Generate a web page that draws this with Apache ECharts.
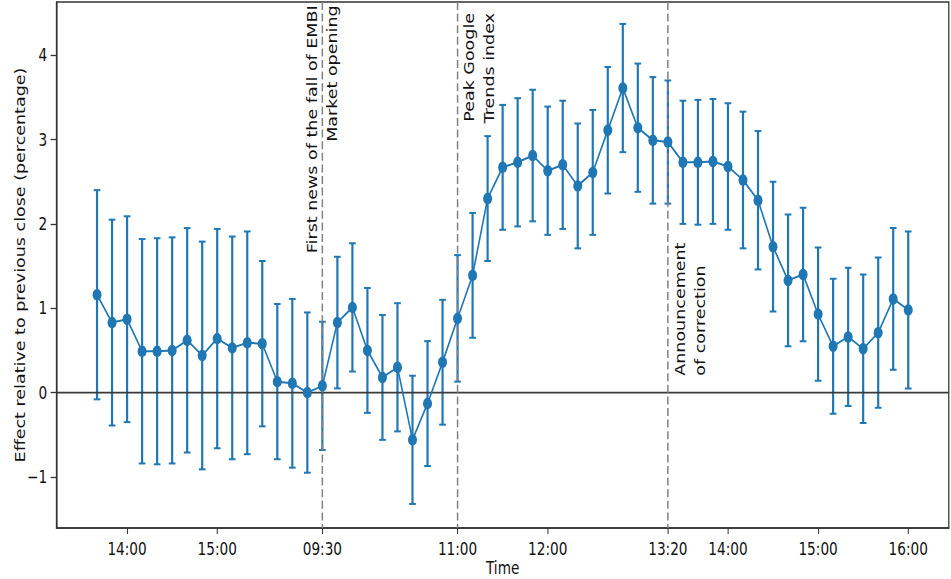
<!DOCTYPE html>
<html>
<head>
<meta charset="utf-8">
<script src="https://cdn.jsdelivr.net/npm/echarts@6/dist/echarts.min.js"></script>
<style>
html,body{margin:0;padding:0;background:#fff;overflow:hidden;width:951px;height:579px;}
#chart{width:1219px;height:579px;transform:scaleX(0.78);transform-origin:0 0;}
</style>
</head>
<body>
<div id="chart"></div>
<script>
// ---- data ----
const categories = ['13:40','13:50','14:00','14:10','14:20','14:30','14:40','14:50','15:00','15:10','15:20','15:30','15:40','15:50','16:00',
  '09:30','09:40','09:50','10:00','10:10','10:20','10:30','10:40','10:50',
  '11:00','11:10','11:20','11:30','11:40','11:50','12:00','12:10','12:20','12:30','12:40','12:50',
  '13:00','13:10','13:20','13:30','13:40','13:50','14:00','14:10','14:20','14:30','14:40','14:50',
  '15:00','15:10','15:20','15:30','15:40','15:50','16:00'];
const effect = [1.16,0.83,0.87,0.49,0.49,0.50,0.62,0.44,0.64,0.53,0.59,0.58,0.13,0.11,0.00,
  0.08,0.83,1.01,0.50,0.18,0.30,-0.56,-0.13,0.36,0.88,
  1.39,2.30,2.67,2.73,2.81,2.63,2.70,2.45,2.61,3.11,
  3.61,3.14,2.99,2.97,2.73,2.73,2.74,2.68,2.52,2.28,
  1.73,1.33,1.40,0.93,0.55,0.66,0.52,0.71,1.11,0.98];
const errorHalf = [1.24,1.22,1.22,1.33,1.34,1.34,1.33,1.35,1.30,1.32,1.32,0.98,0.92,1.00,0.95,
  0.76,0.78,0.76,0.74,0.74,0.76,0.76,0.74,0.74,0.75,
  0.74,0.74,0.74,0.76,0.78,0.76,0.76,0.74,0.74,0.75,
  0.76,0.76,0.75,0.73,0.73,0.74,0.74,0.75,0.81,0.82,
  0.77,0.78,0.79,0.79,0.80,0.82,0.88,0.89,0.84,0.93];
const xTickIndex = [2,8,15,24,30,38,42,48,54];
const yTicks = [-1,0,1,2,3,4];
const eventIndex = [15,24,38];
const eventTexts = ['First news of the fall of EMBI\nMarket opening','Peak Google\nTrends index','Announcement\nof correction'];

// ---- build ----
const lineData = effect.map((v,i)=>[i,v]);
const errData = effect.map((v,i)=>[i, v-errorHalf[i], v+errorHalf[i]]);
const BLUE = '#1f77b4';
const FONT = 'DejaVu Sans';
const FS = 17.5;
const annot = [
  {x:15,    y:4.59, align:'right'},
  {x:25.45, y:4.50, align:'right'},
  {x:39.5,  y:0.20, align:'left'}
];

const chart = echarts.init(document.getElementById('chart'), null, {renderer:'svg'});
chart.setOption({
  animation:false,
  backgroundColor:'#fff',
  grid:{left:72.4, right:2.6, top:2, bottom:51, containLabel:false, outerBoundsMode:'none',
        show:true, borderColor:'#333', borderWidth:1.6, backgroundColor:'transparent'},
  xAxis:{
    type:'value', min:-2.7, max:56.7,
    name:'Time', nameLocation:'middle', nameGap:31, nameMoveOverlap:false,
    nameTextStyle:{fontFamily:FONT, fontSize:FS, lineHeight:18, color:'#111'},
    axisLine:{show:true, onZero:false, lineStyle:{color:'#333', width:1.6}},
    axisTick:{show:true, customValues:xTickIndex, length:6, lineStyle:{color:'#333', width:1.3}},
    axisLabel:{customValues:xTickIndex, formatter:v=>categories[Math.round(v)], fontFamily:FONT, fontSize:FS, color:'#111', margin:12},
    splitLine:{show:false}
  },
  yAxis:{
    type:'value', min:-1.605, max:4.63,
    name:'Effect relative to previous close (percentage)', nameLocation:'middle', nameGap:38, nameMoveOverlap:false,
    nameTextStyle:{fontFamily:FONT, fontSize:FS, color:'#111'},
    axisLine:{show:true, onZero:false, lineStyle:{color:'#333', width:1.6}},
    axisTick:{show:true, customValues:yTicks, length:7.5, lineStyle:{color:'#333', width:1.3}},
    axisLabel:{customValues:yTicks, formatter:v=>(v<0?'\u2212'+Math.abs(v):String(v)), fontFamily:FONT, fontSize:FS, color:'#111', margin:12},
    splitLine:{show:false}
  },
  series:[
    {
      type:'custom', z:2, data:errData, encode:{x:0, y:[1,2]},
      renderItem:(params, api)=>{
        const x=api.value(0), lo=api.value(1), hi=api.value(2);
        const a=api.coord([x,lo]), b=api.coord([x,hi]);
        const hw=4.3;
        return {type:'group', children:[
          {type:'line', shape:{x1:a[0],y1:a[1],x2:b[0],y2:b[1]}, style:{stroke:BLUE, lineWidth:2.8}},
          {type:'line', shape:{x1:a[0]-hw,y1:a[1],x2:a[0]+hw,y2:a[1]}, style:{stroke:BLUE, lineWidth:2}},
          {type:'line', shape:{x1:b[0]-hw,y1:b[1],x2:b[0]+hw,y2:b[1]}, style:{stroke:BLUE, lineWidth:2}}
        ]};
      }
    },
    {
      type:'custom', z:3, data:[[0]], encode:{y:0},
      renderItem:(params, api)=>{
        const cs=params.coordSys; const p=api.coord([0,0]);
        return {type:'line', shape:{x1:cs.x,y1:p[1],x2:cs.x+cs.width,y2:p[1]}, style:{stroke:'#3a3a3a', lineWidth:1.8}};
      }
    },
    {
      type:'custom', z:3, data:eventIndex.map(i=>[i]), encode:{x:0},
      renderItem:(params, api)=>{
        const cs=params.coordSys; const p=api.coord([api.value(0),0]);
        return {type:'line', shape:{x1:p[0],y1:cs.y,x2:p[0],y2:cs.y+cs.height}, style:{stroke:'#808080', lineWidth:1.9, lineDash:[8,3.6]}};
      }
    },
    {
      type:'line', z:4, data:lineData, symbol:'circle', symbolSize:11.5,
      lineStyle:{color:BLUE, width:2}, itemStyle:{color:BLUE}
    },
    {
      type:'custom', z:5, data:annot.map(a=>[a.x,a.y]), encode:{x:0,y:1},
      renderItem:(params, api)=>{
        const p=api.coord([api.value(0), api.value(1)]);
        const a=annot[params.dataIndex];
        return {type:'text', x:p[0], y:p[1], rotation:Math.PI/2,
          style:{text:eventTexts[params.dataIndex], fill:'#111', fontFamily:FONT, fontSize:FS,
                 align:a.align, verticalAlign:'middle', lineHeight:26}};
      }
    }
  ]
});
</script>
</body>
</html>
